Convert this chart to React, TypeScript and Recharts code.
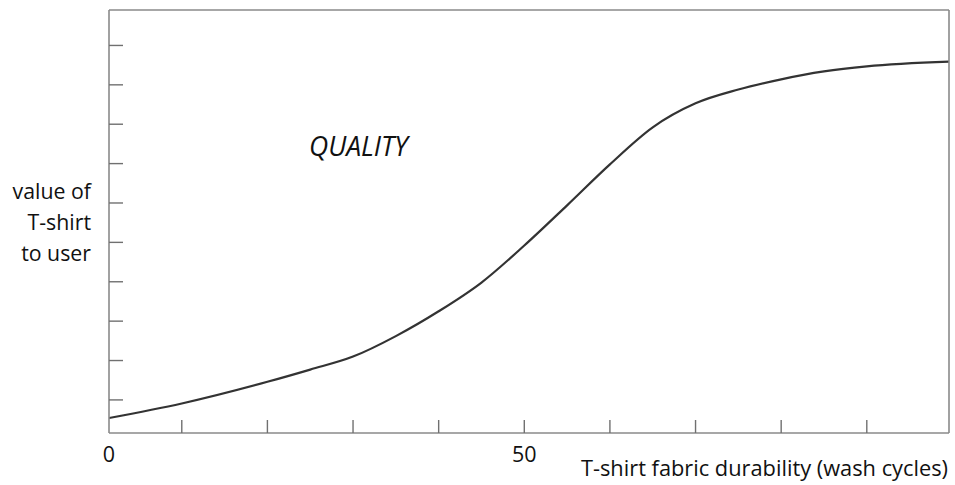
import React from 'react';
import { LineChart, Line, XAxis, YAxis } from 'recharts';

// durability in wash cycles vs perceived value (arbitrary units, tick = 1)
const washCycles = [1.5, 10, 20, 25, 30, 35, 40, 45, 50, 55, 60, 65, 70, 75, 80, 85, 90, 99.6];
const userValue = [0.54, 0.91, 1.46, 1.77, 2.1, 2.62, 3.25, 3.98, 4.92, 5.94, 6.98, 7.92, 8.53, 8.88, 9.14, 9.34, 9.47, 9.59];

const xTicks = [1.5, 10, 20, 30, 40, 50, 60, 70, 80, 90];
const xTickLabels: Record<number, string> = { 1.5: '0', 50: '50' };
const yTicks = [1, 2, 3, 4, 5, 6, 7, 8, 9, 10];

const yTitle = ['value of', 'T-shirt', 'to user'];
const xTitle = 'T-shirt fabric durability (wash cycles)';
const annotation = 'QUALITY';

const data = washCycles.map((x, i) => ({ x, v: userValue[i] }));

const FONT = '"Open Sans", sans-serif';
const AXIS = '#8a8a8a';
const TICK = '#707070';

function XTick(props: any) {
  const { x, y, payload } = props;
  const label = xTickLabels[payload.value];
  return (
    <g>
      {payload.value !== 1.5 && <line x1={x} y1={y} x2={x} y2={y - 13} stroke={TICK} strokeWidth={1.4} />}
      {label && (
        <text x={x} y={y + 29} textAnchor="middle" fontFamily={FONT} fontSize={21.5} fill="#111">
          {label}
        </text>
      )}
    </g>
  );
}

function YTick(props: any) {
  const { x, y } = props;
  return <line x1={x} y1={y} x2={x + 14} y2={y} stroke={TICK} strokeWidth={1.4} />;
}

export default function App() {
  return (
    <div style={{ position: 'absolute', left: 0, top: 0, width: 955, height: 485, background: '#fff' }}>
      <LineChart width={955} height={485} data={data} margin={{ top: 9, right: 5, bottom: 51, left: 108 }}>
        <XAxis
          dataKey="x"
          type="number"
          domain={[1.5, 99.6]}
          ticks={xTicks}
          allowDataOverflow
          height={1}
          tickSize={0}
          tickMargin={0}
          tick={<XTick />}
          axisLine={{ stroke: AXIS, strokeWidth: 1.6 }}
          interval={0}
        />
        <XAxis xAxisId="top" orientation="top" type="number" domain={[0, 1]} height={1} tick={false} tickLine={false} axisLine={{ stroke: AXIS, strokeWidth: 1.6 }} />
        <YAxis
          type="number"
          domain={[0.16, 10.9]}
          ticks={yTicks}
          allowDataOverflow
          width={1}
          tickSize={0}
          tickMargin={0}
          tick={<YTick />}
          axisLine={{ stroke: AXIS, strokeWidth: 1.6 }}
          interval={0}
        />
        <YAxis yAxisId="right" orientation="right" type="number" domain={[0, 1]} width={1} tick={false} tickLine={false} axisLine={{ stroke: AXIS, strokeWidth: 1.6 }} />
        <Line type="monotone" dataKey="v" stroke="#333" strokeWidth={2.2} dot={false} isAnimationActive={false} />
      </LineChart>
      <svg width={955} height={485} style={{ position: 'absolute', left: 0, top: 0, pointerEvents: 'none' }}>
        {yTitle.map((t, i) => (
          <text key={t} x={91} y={199 + i * 31} textAnchor="end" fontFamily={FONT} fontSize={21.3} fill="#111">
            {t}
          </text>
        ))}
        <text x={948} y={476} textAnchor="end" fontFamily={FONT} fontSize={21.8} fill="#111">
          {xTitle}
        </text>
        <text x={309} y={156} fontFamily={FONT} fontSize={26.6} fontStyle="italic" fill="#111">
          {annotation}
        </text>
      </svg>
    </div>
  );
}
